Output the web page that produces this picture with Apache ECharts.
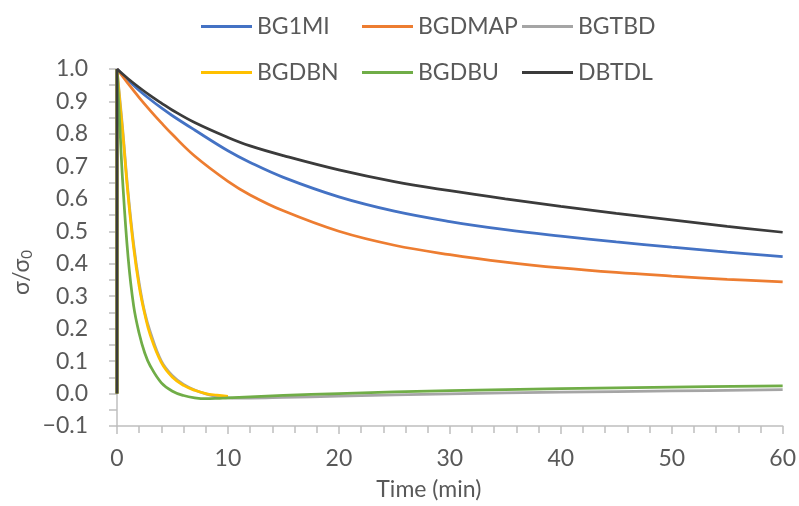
<!DOCTYPE html>
<html>
<head>
<meta charset="utf-8">
<title>Stress relaxation</title>
<script src="https://cdn.jsdelivr.net/npm/echarts@6/dist/echarts.min.js"></script>
<style>
  html, body { margin: 0; padding: 0; background: #fff; }
  #chart { width: 799px; height: 506px; }
</style>
</head>
<body>
<div id="chart"></div>
<script>
// time (min) -- the first two points are the vertical jump at t = 0
const tSlow = [0, 0, 1, 2, 3, 4, 5, 7, 10, 12, 15, 20, 25, 30, 35, 40, 45, 50, 55, 60]
const tFast = [0, 0, 0.25, 0.5, 1, 1.5, 2, 2.5, 3, 4, 5, 6, 7, 8, 9, 10, 12, 15, 20, 30, 40, 50, 60]
const tBGDBN = [0, 0, 0.25, 0.5, 1, 1.5, 2, 2.5, 3, 4, 5, 6, 7, 8, 9, 10]

// sigma / sigma0
const bg1mi = [0, 1, 0.965, 0.934, 0.906, 0.88, 0.856, 0.812, 0.748, 0.712, 0.666, 0.606, 0.562, 0.53, 0.505, 0.485, 0.467, 0.451, 0.436, 0.422]
const bgdmap = [0, 1, 0.955, 0.912, 0.872, 0.834, 0.798, 0.732, 0.654, 0.612, 0.563, 0.5, 0.457, 0.428, 0.405, 0.387, 0.373, 0.362, 0.352, 0.344]
const bgtbd = [0, 1, 0.91, 0.82, 0.62, 0.46, 0.34, 0.25, 0.19, 0.1, 0.055, 0.028, 0.011, -0.001, -0.009, -0.013, -0.014, -0.012, -0.008, -0.001, 0.004, 0.008, 0.012]
const bgdbn = [0, 1, 0.9, 0.81, 0.61, 0.45, 0.33, 0.245, 0.18, 0.095, 0.05, 0.025, 0.01, 0, -0.005, -0.009]
const bgdbu = [0, 1, 0.83, 0.66, 0.42, 0.27, 0.185, 0.125, 0.085, 0.033, 0.007, -0.006, -0.013, -0.016, -0.015, -0.013, -0.01, -0.006, 0, 0.009, 0.015, 0.02, 0.024]
const dbtdl = [0, 1, 0.97, 0.943, 0.918, 0.895, 0.873, 0.835, 0.789, 0.763, 0.733, 0.689, 0.653, 0.625, 0.6, 0.577, 0.555, 0.535, 0.515, 0.497]

const xTicks = [0, 10, 20, 30, 40, 50, 60]
const yTicks = [-0.1, 0, 0.1, 0.2, 0.3, 0.4, 0.5, 0.6, 0.7, 0.8, 0.9, 1.0]

const FONT = 'Lato, "Open Sans", sans-serif'
const TEXT = '#595959'
const AXIS = '#bfbfbf'
const FS = 23

// straight jump from (0,0) to (0,1), then the smooth decay
function toData(t, v) {
  const pts = t.map((x, i) => [x, v[i]])
  return [pts[0], pts[1], [0, '-']].concat(pts.slice(1))
}

const seriesDefs = [
  { name: 'BG1MI', t: tSlow, v: bg1mi, color: '#4472c4' },
  { name: 'BGDMAP', t: tSlow, v: bgdmap, color: '#ed7d31' },
  { name: 'BGTBD', t: tFast, v: bgtbd, color: '#a5a5a5' },
  { name: 'BGDBN', t: tBGDBN, v: bgdbn, color: '#ffc000' },
  { name: 'BGDBU', t: tFast, v: bgdbu, color: '#70ad47' },
  { name: 'DBTDL', t: tSlow, v: dbtdl, color: '#3b3b3b' }
]

// legend slots, laid out like the original 3 x 2 block
const legendLeft = [201, 362, 522]
const legendTop = [15, 61]

const chart = echarts.init(document.getElementById('chart'), null, { renderer: 'canvas' })
chart.setOption({
  animation: false,
  textStyle: { fontFamily: FONT },
  legend: seriesDefs.map((s, i) => ({
    data: [s.name],
    left: legendLeft[i % 3],
    top: legendTop[Math.floor(i / 3)],
    padding: 0,
    icon: 'rect',
    itemWidth: 51,
    itemHeight: 3,
    textStyle: { fontFamily: FONT, fontSize: FS, color: TEXT }
  })),
  grid: { left: 117, right: 14, top: 69, bottom: 78 },
  xAxis: {
    type: 'value',
    min: xTicks[0],
    max: xTicks[xTicks.length - 1],
    interval: 10,
    name: 'Time (min)',
    nameLocation: 'middle',
    nameGap: 52,
    nameMoveOverlap: false,
    nameTextStyle: { fontFamily: FONT, fontSize: FS, color: TEXT, padding: [0, 42, 0, 0] },
    axisLine: { onZero: false, lineStyle: { color: AXIS, width: 1.5 } },
    axisTick: { show: true, length: 8, lineStyle: { color: AXIS, width: 1.5 } },
    minorTick: { show: true, splitNumber: 5, length: 7, lineStyle: { color: AXIS, width: 1.5 } },
    axisLabel: { fontFamily: FONT, fontSize: FS, color: TEXT, margin: 21 },
    splitLine: { show: false }
  },
  yAxis: {
    type: 'value',
    min: yTicks[0],
    max: yTicks[yTicks.length - 1],
    interval: 0.1,
    name: 'σ/σ{sub|0}',
    nameLocation: 'middle',
    nameRotate: 90,
    nameGap: 82,
    nameMoveOverlap: false,
    nameTextStyle: {
      fontFamily: FONT, fontSize: FS, color: TEXT, padding: [0, 50, 0, 0],
      rich: { sub: { fontFamily: FONT, fontSize: 15, color: TEXT, verticalAlign: 'bottom', padding: [11, 0, 0, 0] } }
    },
    axisLine: { show: true, lineStyle: { color: AXIS, width: 1.5 } },
    axisTick: { show: true, length: 8, lineStyle: { color: AXIS, width: 1.5 } },
    minorTick: { show: true, splitNumber: 2, length: 8, lineStyle: { color: AXIS, width: 1.5 } },
    axisLabel: {
      fontFamily: FONT, fontSize: FS, color: TEXT, margin: 29,
      formatter: v => v.toFixed(1).replace('-', '\u2212')
    },
    splitLine: { show: false }
  },
  series: seriesDefs.map(s => ({
    name: s.name,
    type: 'line',
    data: toData(s.t, s.v),
    smooth: 0.4,
    symbol: 'none',
    color: s.color,
    lineStyle: { color: s.color, width: 2.75 }
  }))
})
</script>
</body>
</html>
